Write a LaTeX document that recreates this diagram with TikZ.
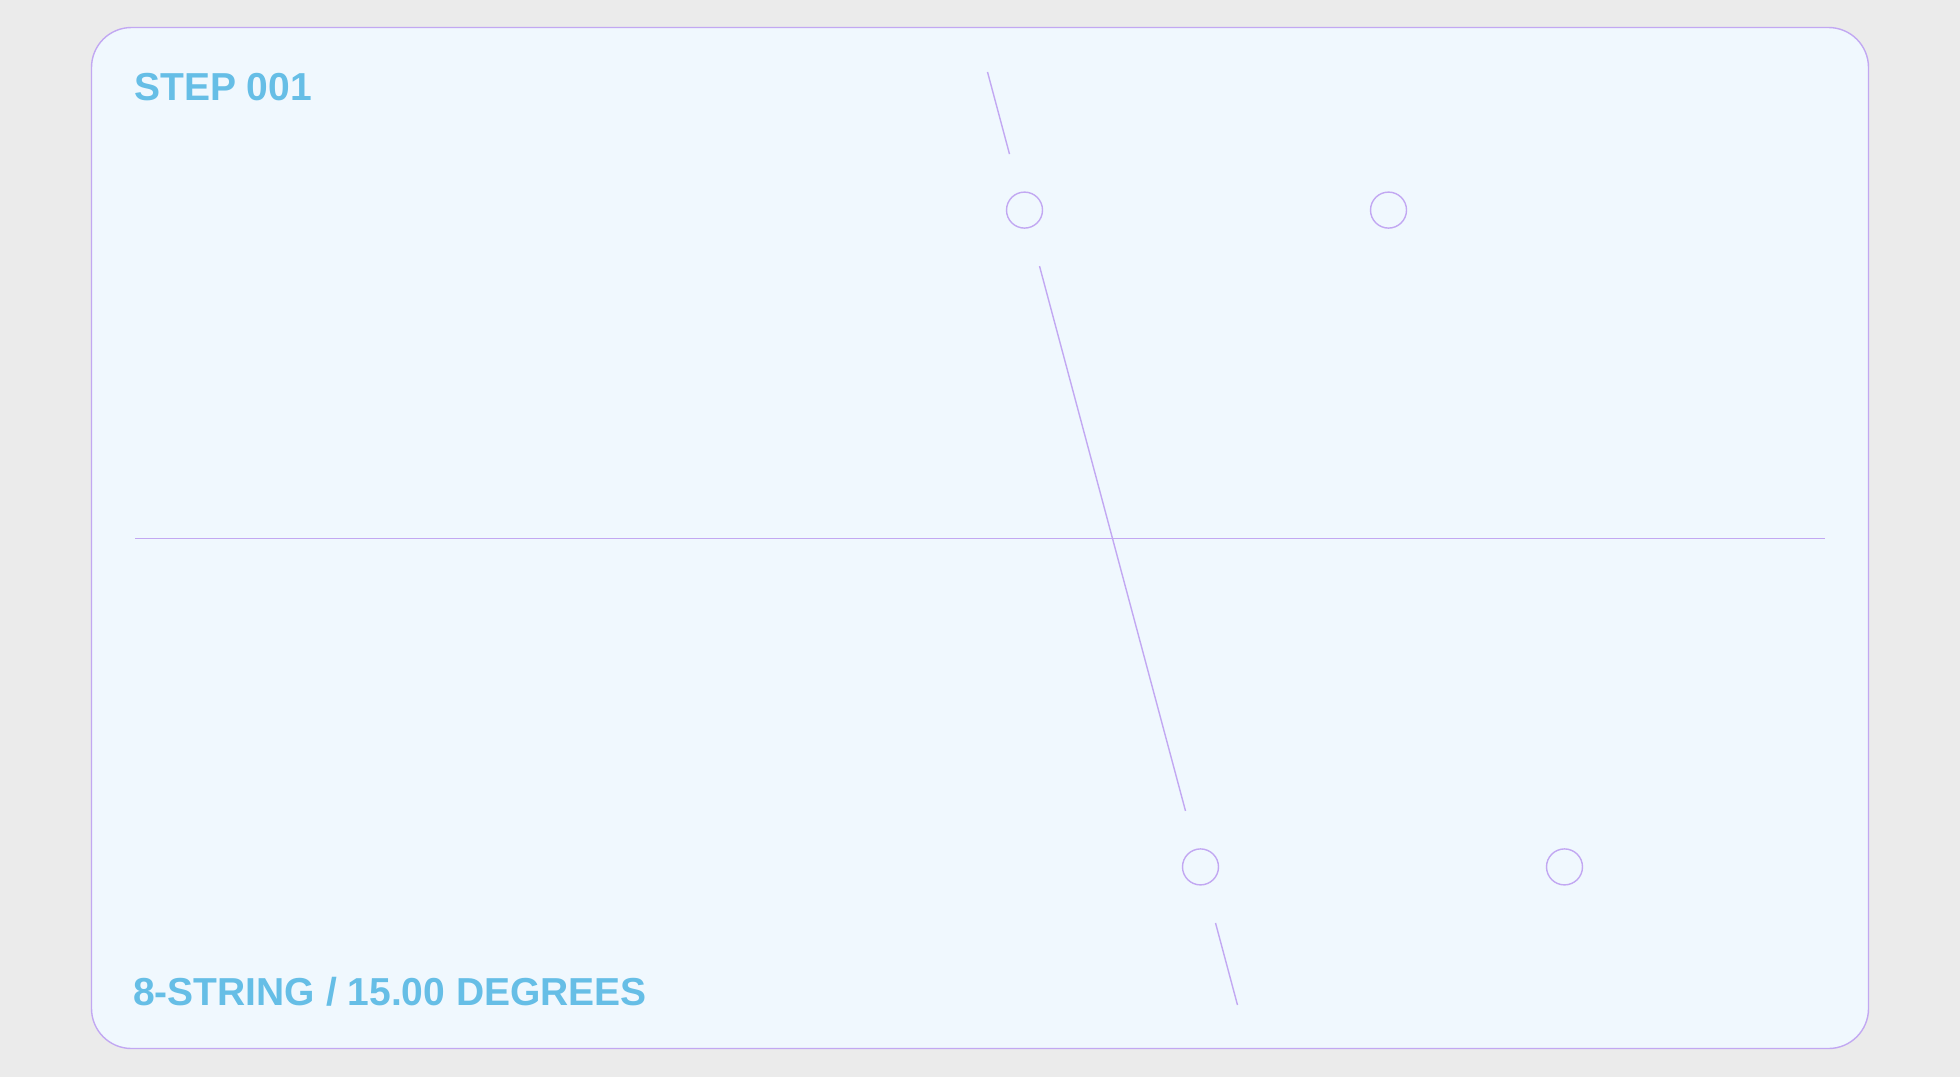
\documentclass[tikz,border=0pt]{standalone}
\usepackage{fontspec}
\setmainfont{Liberation Sans}
\usetikzlibrary{calc}
\definecolor{bgout}{HTML}{EBEBEB}
\definecolor{cardfill}{HTML}{F0F8FE}
\definecolor{lav}{HTML}{C2A8F2}
\definecolor{txtblue}{HTML}{66BEE6}
\begin{document}
\begin{tikzpicture}[x=1pt,y=-1pt,
  lavline/.style={draw=lav,line width=1.4pt},
  ring/.style={circle,draw=lav,line width=1.4pt,minimum size=36pt,inner sep=0pt},
  label/.style={anchor=base west,inner sep=0pt,text=txtblue,font=\fontsize{39}{39}\selectfont\bfseries}]
\fill[bgout] (0,0) rectangle (1960,1077);
\useasboundingbox (0,0) rectangle (1960,1077);
\draw[fill=cardfill,draw=lav,line width=1.4pt,rounded corners=40pt] (91.5,27.5) rectangle (1868.5,1048.5);
% horizontal axis
\coordinate (h1) at (135,538.5);
\coordinate (h2) at (1825,538.5);
\draw[lavline] (h1) -- (h2);
% tilted line, 15 degrees from vertical
\coordinate (o) at (1112.5,538.5);
\coordinate (a1) at ($(o)+(-0.2588*483,-0.9659*483)$);
\coordinate (a2) at ($(o)+(-0.2588*398,-0.9659*398)$);
\coordinate (b1) at ($(o)+(-0.2588*282,-0.9659*282)$);
\coordinate (b2) at ($(o)+(0.2588*282,0.9659*282)$);
\coordinate (d1) at ($(o)+(0.2588*398,0.9659*398)$);
\coordinate (d2) at ($(o)+(0.2588*483,0.9659*483)$);
\draw[lavline] (a1) -- (a2);
\draw[lavline] (b1) -- (b2);
\draw[lavline] (d1) -- (d2);
% rings
\node[ring] (c1) at ($(o)+(-0.2588*340,-0.9659*340)$) {};
\node[ring] (c2) at ($(c1)+(364,0)$) {};
\node[ring] (c3) at ($(o)+(0.2588*340,0.9659*340)$) {};
\node[ring] (c4) at ($(c3)+(364,0)$) {};
% labels
\node[label] (t1) at (134,100) {STEP 001};
\node[label] (t2) at (133,1005) {8-STRING / 15.00 DEGREES};
\end{tikzpicture}
\end{document}
